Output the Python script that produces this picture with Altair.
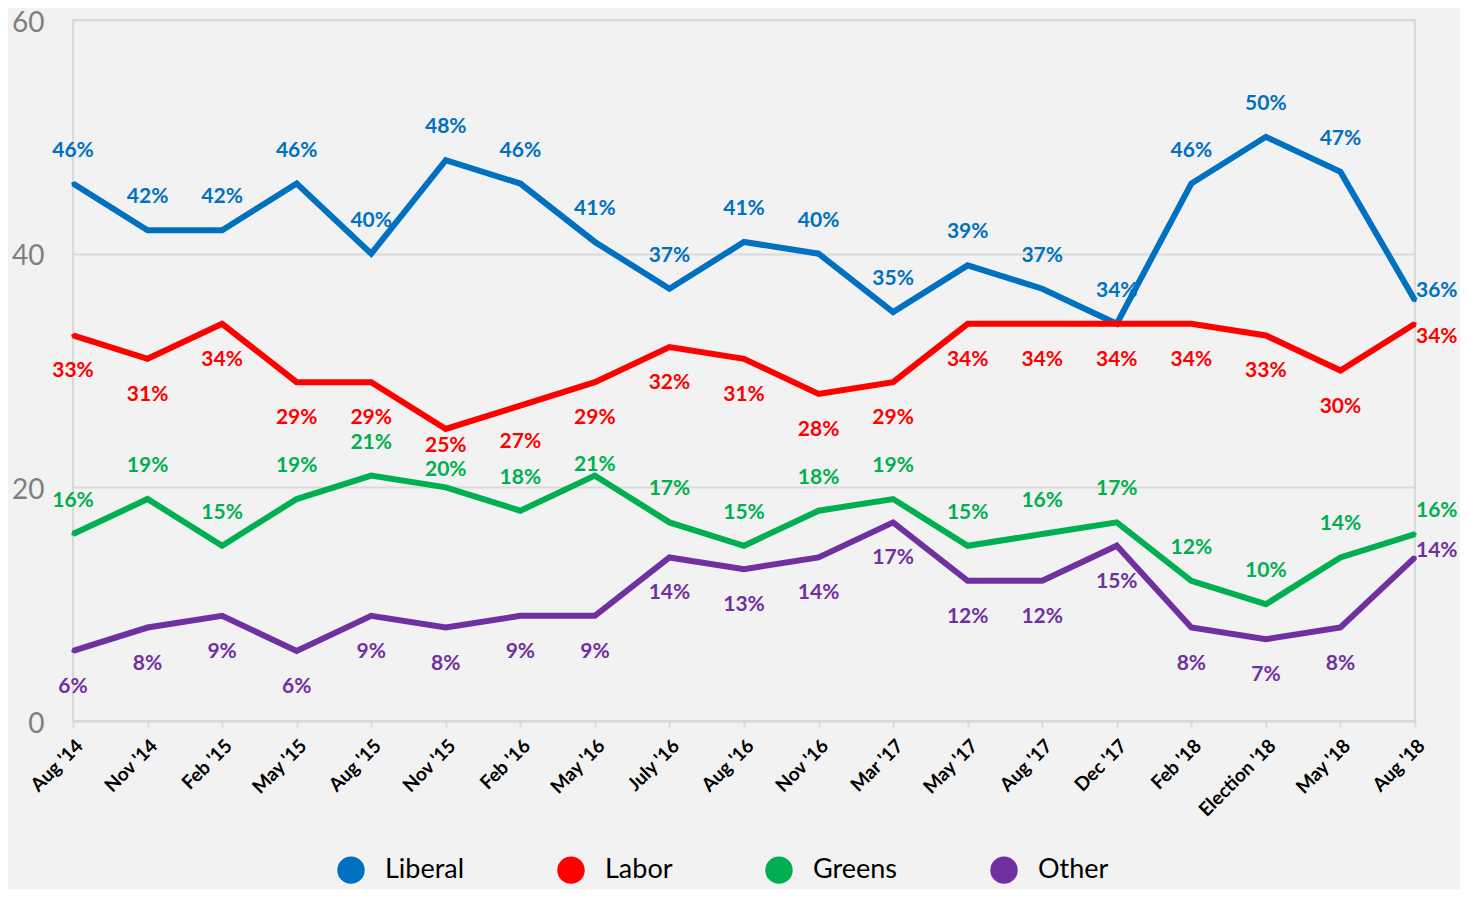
import altair as alt
import pandas as pd

periods = ["Aug '14", "Nov '14", "Feb '15", "May '15", "Aug '15", "Nov '15", "Feb '16",
           "May '16", "July '16", "Aug '16", "Nov '16", "Mar '17", "May '17", "Aug '17",
           "Dec '17", "Feb '18", "Election '18", "May '18", "Aug '18"]

liberal = [46, 42, 42, 46, 40, 48, 46, 41, 37, 41, 40, 35, 39, 37, 34, 46, 50, 47, 36]
labor = [33, 31, 34, 29, 29, 25, 27, 29, 32, 31, 28, 29, 34, 34, 34, 34, 33, 30, 34]
greens = [16, 19, 15, 19, 21, 20, 18, 21, 17, 15, 18, 19, 15, 16, 17, 12, 10, 14, 16]
other = [6, 8, 9, 6, 9, 8, 9, 9, 14, 13, 14, 17, 12, 12, 15, 8, 7, 8, 14]

parties = ["Liberal", "Labor", "Greens", "Other"]
colors = ["#0070C0", "#FF0000", "#00B050", "#7030A0"]
y_ticks = [0, 20, 40, 60]

# label placement codes (layout only)
n = len(periods)
place_lib = ["above"] * (n - 1) + ["r_lib"]
place_lab = ["below"] * 5 + ["below_near"] + ["below"] * (n - 7) + ["r_lab"]
place_grn = ["above"] * 5 + ["above_near", "above", "above_tight"] + ["above"] * (n - 9) + ["r_grn"]
place_oth = ["below"] * (n - 1) + ["r_oth"]

offsets = {
    "above": (0, -33, "center"),
    "below": (0, 36, "center"),
    "below_near": (0, 17, "center"),
    "above_near": (0, -17, "center"),
    "above_tight": (0, -11, "center"),
    "r_lib": (1, -9, "left"),
    "r_lab": (1, 13, "left"),
    "r_grn": (1, -23, "left"),
    "r_oth": (1, -6, "left"),
}

rows = []
for party, vals, places in zip(parties, [liberal, labor, greens, other],
                               [place_lib, place_lab, place_grn, place_oth]):
    for p, v, pl in zip(periods, vals, places):
        rows.append({"period": p, "party": party, "value": v,
                     "label": f"{v}%", "place": pl})
df = pd.DataFrame(rows)

FONT = "Lato"
grid_c = "#d9d9d9"

x_enc = alt.X("period:N", sort=periods, scale=alt.Scale(type="point", padding=0),
              axis=alt.Axis(title=None, labelAngle=-45, labelFont=FONT, labelFontSize=19,
                            labelFontWeight="bold", labelColor="#000000", labelPadding=9,
                            domainColor=grid_c, domainWidth=2, tickColor=grid_c,
                            tickWidth=2, tickSize=6, grid=False))
y_enc = alt.Y("value:Q", scale=alt.Scale(domain=[0, 60], nice=False),
              axis=alt.Axis(title=None, values=y_ticks, labelFont=FONT, labelFontSize=28,
                            labelColor="#7f7f7f", ticks=False, domain=False, labelOffset=3,
                            labelPadding=29, grid=True, gridColor=grid_c, gridWidth=2))
color_scale = alt.Scale(domain=parties, range=colors)

base = alt.Chart(df)

pts = base.mark_circle(size=12, opacity=1).encode(
    x=x_enc, y=y_enc,
    color=alt.Color("party:N", scale=color_scale,
                    legend=alt.Legend(title=None, orient="none", direction="horizontal",
                                      legendX=264, legendY=836, symbolType="circle",
                                      symbolSize=750, symbolStrokeWidth=0,
                                      labelFont=FONT, labelFontSize=27, labelColor="#000000",
                                      labelOffset=20, columnPadding=92)),
)

lines = base.mark_line(strokeWidth=6).encode(
    x=x_enc, y=y_enc,
    color=alt.Color("party:N", scale=color_scale),
    detail="party:N",
)

texts = []
for key, (dx, dy, align) in offsets.items():
    t = base.transform_filter(alt.datum.place == key).mark_text(
        dx=dx, dy=dy, align=align, baseline="middle", font=FONT, fontSize=21,
        fontWeight="bold"
    ).encode(
        x=x_enc, y=y_enc, text="label:N",
        color=alt.Color("party:N", scale=color_scale),
    )
    texts.append(t)

chart = alt.layer(pts, lines, *texts).properties(
    width=1342, height=701,
    background="#f2f2f2",
    padding={"left": 65, "top": 12, "right": 45, "bottom": 168},
    autosize=alt.AutoSizeParams(type="none"),
).configure_view(stroke=grid_c, strokeWidth=2)

chart.save("out.html", embed_options={"renderer": "svg", "actions": False})
